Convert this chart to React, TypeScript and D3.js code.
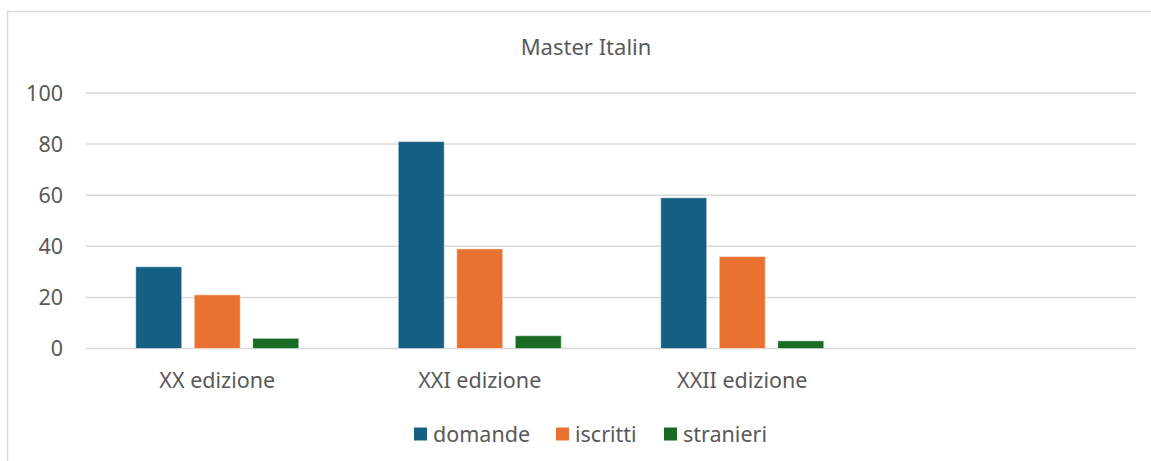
import React from "react";
import * as d3 from "d3";

const categories = ["XX edizione", "XXI edizione", "XXII edizione", ""];
const seriesNames = ["domande", "iscritti", "stranieri"];
const domande = [32, 81, 59, null];
const iscritti = [21, 39, 36, null];
const stranieri = [4, 5, 3, null];
const seriesColors = ["#156082", "#E97132", "#196B24"];
const yTicks = [0, 20, 40, 60, 80, 100];
const title = "Master Italin";

const W = 1151;
const H = 461;
const FONT = "'Noto Sans', sans-serif";
const TEXT = "#595959";
const FS = 21.5;

export default function App() {
  const seriesValues = [domande, iscritti, stranieri];
  const x = d3.scaleBand<string>().domain(categories.map((c, i) => String(i))).range([86, 1136]).padding(0);
  const xi = d3
    .scaleBand<string>()
    .domain(seriesNames)
    .range([0, x.bandwidth()])
    .paddingInner(0.214)
    .paddingOuter(0.85);
  const y = d3.scaleLinear().domain([0, 100]).range([348.5, 93]);

  const legendX = [414, 556, 664];

  return (
    <svg width={W} height={H} style={{ position: "absolute", left: 0, top: 0, display: "block" }}>
      <rect x={0} y={0} width={W} height={H} fill="#fff" />
      <rect x={7.5} y={11.5} width={W + 10} height={H + 10} fill="#fff" stroke="#d9d9d9" strokeWidth={1.5} />
      <text x={586} y={55} textAnchor="middle" fontFamily={FONT} fontSize={22} fill={TEXT}>
        {title}
      </text>
      {yTicks.map((t) => (
        <g key={t}>
          <line x1={86} x2={1136} y1={y(t)} y2={y(t)} stroke="#d9d9d9" strokeWidth={1.5} />
          <text x={63} y={y(t)} dy="0.35em" textAnchor="end" fontFamily={FONT} fontSize={FS} fill={TEXT}>
            {t}
          </text>
        </g>
      ))}
      {categories.map((c, ci) => (
        <g key={ci} transform={`translate(${x(String(ci))},0)`}>
          {seriesNames.map((s, si) => {
            const v = seriesValues[si][ci];
            if (v == null) return null;
            return (
              <rect
                key={s}
                x={xi(s)}
                y={y(v)}
                width={xi.bandwidth()}
                height={y(0) - y(v)}
                fill={seriesColors[si]}
                stroke="#ffffff"
                strokeOpacity={0.5}
                strokeWidth={1}
              />
            );
          })}
          {c && (
            <text x={x.bandwidth() / 2} y={388} textAnchor="middle" fontFamily={FONT} fontSize={FS} fill={TEXT}>
              {c}
            </text>
          )}
        </g>
      ))}
      {seriesNames.map((s, si) => (
        <g key={s}>
          <rect x={legendX[si]} y={427.5} width={13} height={13} fill={seriesColors[si]} />
          <text x={legendX[si] + 19} y={441.5} fontFamily={FONT} fontSize={FS} fill={TEXT}>
            {s}
          </text>
        </g>
      ))}
    </svg>
  );
}
